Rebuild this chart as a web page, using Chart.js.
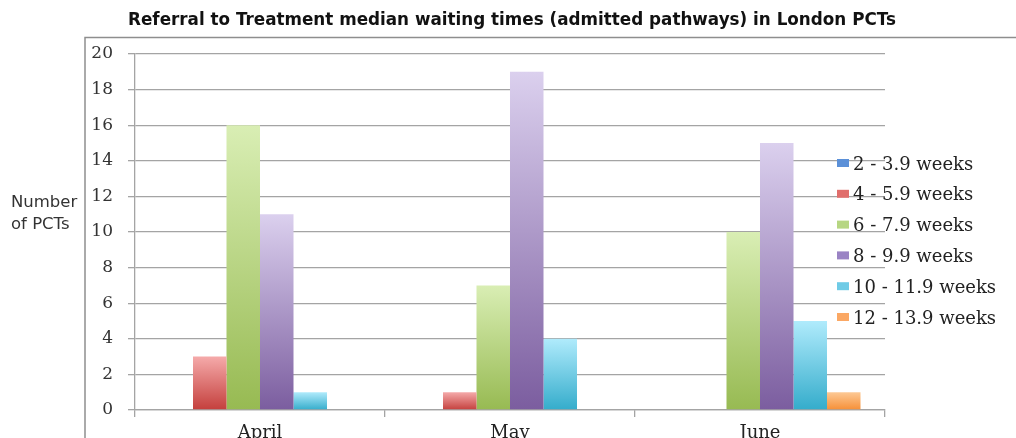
<!DOCTYPE html>
<html>
<head>
<meta charset="utf-8">
<title>Referral to Treatment median waiting times</title>
<script src="https://cdn.jsdelivr.net/npm/chart.js@4.4.1/dist/chart.umd.min.js"></script>
<style>
  html, body { margin: 0; padding: 0; background: #fff; }
  canvas { display: block; }
</style>
</head>
<body>
<canvas id="chart" width="1016" height="438"></canvas>
<script>
// data
const months = ['April', 'May', 'June']
const bandLabels = ['2 - 3.9 weeks', '4 - 5.9 weeks', '6 - 7.9 weeks', '8 - 9.9 weeks', '10 - 11.9 weeks', '12 - 13.9 weeks']
const weeks2to4 = [0, 0, 0]
const weeks4to6 = [3, 1, 0]
const weeks6to8 = [16, 7, 10]
const weeks8to10 = [11, 19, 15]
const weeks10to12 = [1, 4, 5]
const weeks12to14 = [0, 0, 1]
const yMin = 0
const yMax = 20
const yStep = 2

const titleText = 'Referral to Treatment median waiting times (admitted pathways) in London PCTs'
const yTitleLines = ['Number', 'of PCTs']

// top (light) and bottom (dark) colour of each band
const topColors = ['#a9c6ef', '#f5aaaa', '#d9eeb4', '#dbd0ee', '#b0ebfc', '#fdc995']
const bottomColors = ['#4a7ebb', '#c43f3c', '#97ba52', '#7b5d9f', '#34accb', '#f68f36']
const keyColors = ['#5b90d8', '#e06e6c', '#b6d682', '#9a83c4', '#6fcbe6', '#fba864']

const serif = '"DejaVu Serif", "Liberation Serif", serif'
const sans = '"DejaVu Sans", "Liberation Sans", sans-serif'
const gridColor = '#a4a4a4'

function barFill(i) {
  return function(c) {
    const chart = c.chart
    if (!chart.chartArea || c.type !== 'data' || !chart.scales.y) return bottomColors[i]
    const y = chart.scales.y
    const yTop = y.getPixelForValue(c.raw)
    const yBot = y.getPixelForValue(0)
    if (yBot - yTop < 1) return bottomColors[i]
    const g = chart.ctx.createLinearGradient(0, yTop, 0, yBot)
    g.addColorStop(0, topColors[i])
    g.addColorStop(1, bottomColors[i])
    return g
  }
}

const seriesData = [weeks2to4, weeks4to6, weeks6to8, weeks8to10, weeks10to12, weeks12to14]
const datasets = seriesData.map((d, i) => ({
  label: bandLabels[i],
  data: d,
  backgroundColor: barFill(i),
  borderWidth: 0,
  categoryPercentage: 0.804,
  barPercentage: 1
}))

// frame, title, y title and the key, drawn on the canvas
const decorations = {
  id: 'decorations',
  beforeDraw(chart) {
    const ctx = chart.ctx
    ctx.save()
    ctx.strokeStyle = '#8e8e8e'
    ctx.lineWidth = 1.5
    ctx.beginPath()
    ctx.moveTo(85, 438)
    ctx.lineTo(85, 37.5)
    ctx.lineTo(1016, 37.5)
    ctx.stroke()

    ctx.fillStyle = '#111'
    ctx.font = 'bold 16.8px ' + sans
    ctx.textAlign = 'center'
    ctx.textBaseline = 'middle'
    ctx.fillText(titleText, 512, 21)

    ctx.fillStyle = '#333'
    ctx.font = '16.5px ' + sans
    ctx.textAlign = 'left'
    yTitleLines.forEach((t, k) => ctx.fillText(t, 11, 203 + k * 22))
    ctx.restore()
  },
  afterDraw(chart) {
    const ctx = chart.ctx
    ctx.save()
    ctx.font = '18px ' + serif
    ctx.textAlign = 'left'
    ctx.textBaseline = 'middle'
    chart.data.datasets.forEach((ds, i) => {
      const y = 165 + i * 30.8
      ctx.fillStyle = keyColors[i]
      ctx.fillRect(837, y - 6, 12, 8)
      ctx.fillStyle = '#222'
      ctx.fillText(ds.label, 853, y)
    })
    ctx.restore()
  }
}

new Chart(document.getElementById('chart'), {
  type: 'bar',
  data: { labels: months, datasets: datasets },
  plugins: [decorations],
  options: {
    responsive: false,
    animation: false,
    layout: { padding: { left: 85, right: 131, top: 54, bottom: 0 } },
    plugins: {
      legend: { display: false },
      title: { display: false },
      tooltip: { enabled: false }
    },
    scales: {
      x: {
        afterFit: s => { s.height = 28 },
        grid: { drawOnChartArea: false, offset: true, tickLength: 7, color: gridColor, lineWidth: 1.3 },
        border: { display: true, color: gridColor, width: 1.3 },
        ticks: { font: { family: serif, size: 18 }, color: '#222', padding: 6 }
      },
      y: {
        min: yMin,
        max: yMax,
        afterFit: s => { s.width = 50 },
        grid: { color: gridColor, lineWidth: 1.3, tickLength: 7 },
        border: { display: true, color: gridColor, width: 1.3 },
        ticks: { stepSize: yStep, font: { family: serif, size: 17 }, color: '#333', padding: 15 }
      }
    }
  }
})
</script>
</body>
</html>
